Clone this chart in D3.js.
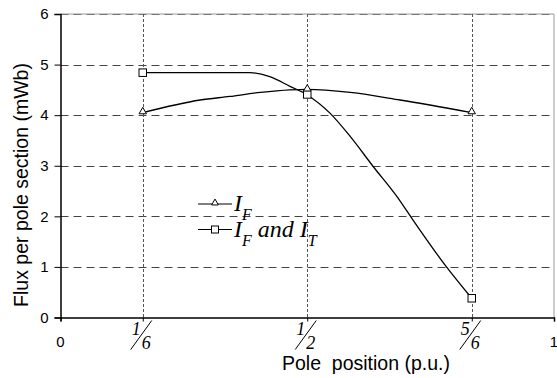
<!DOCTYPE html>
<html>
<head>
<meta charset="utf-8">
<script src="https://cdn.jsdelivr.net/npm/d3@7"></script>
<style>
  body { margin: 0; background: white; }
  svg { display: block; }
  .tickText { font-family: "Liberation Sans", Arial, sans-serif; font-size: 15px; fill: #000; }
  .axisTitle { font-family: "Liberation Sans", Arial, sans-serif; font-size: 19.5px; fill: #000; }
  .frac { font-family: "Liberation Serif", "Times New Roman", serif; font-style: italic; font-size: 18px; fill: #000; }
  .legText { font-family: "Liberation Serif", "Times New Roman", serif; font-style: italic; font-size: 24px; fill: #000; }
</style>
</head>
<body>
<div id="chart"></div>
<script>
/* axis ticks */
var xTicks = [0, 1/6, 1/2, 5/6, 1]
var xTickNum = ["0", "1", "1", "5", "1"]
var xTickDen = [null, "6", "2", "6", null]
var yTicks = [0, 1, 2, 3, 4, 5, 6]
var xGrid = [1/6, 1/2, 5/6]

/* measured points (markers) */
var polePos = [1/6, 1/2, 5/6]
var fluxIF = [4.05, 4.5, 4.05]
var fluxIFIT = [4.84, 4.41, 0.38]

/* smoothed curves */
var curveIFx = [1/6, 0.283, 0.343, 0.405, 0.465, 0.5, 0.587, 0.688, 5/6]
var curveIFy = [4.05, 4.30, 4.37, 4.45, 4.50, 4.51, 4.45, 4.30, 4.05]
var curveITx = [1/6, 0.384, 0.424, 0.465, 0.5, 0.546, 0.587, 0.634, 0.684, 0.714, 0.779, 5/6]
var curveITy = [4.84, 4.84, 4.76, 4.57, 4.40, 4.04, 3.58, 2.98, 2.36, 1.93, 1.04, 0.38]

var layout = {
  W: 557, H: 378,
  left: 60.5, right: 554, top: 14, bottom: 317.5,
  lineW: 1.3,
  markerSize: 7.5
}

var svg = d3.select("#chart").append("svg")
  .attr("width", layout.W)
  .attr("height", layout.H)

var x = d3.scaleLinear().domain([0, 1]).range([layout.left, layout.right])
var y = d3.scaleLinear().domain([0, 6]).range([layout.bottom, layout.top])

/* frame (top + right in gray) */
svg.append("path")
  .attr("d", "M" + layout.left + "," + layout.top + "H" + layout.right + "V" + layout.bottom)
  .attr("fill", "none")
  .attr("stroke", "#9a9a9a")
  .attr("stroke-width", 1)

/* horizontal grid */
svg.selectAll(".hGrid")
  .data(yTicks.filter(function(d) { return d > 0 }))
  .enter().append("line")
  .attr("class", "hGrid")
  .attr("x1", layout.left)
  .attr("x2", layout.right)
  .attr("y1", function(d) { return Math.round(y(d)) + 0.5 })
  .attr("y2", function(d) { return Math.round(y(d)) + 0.5 })
  .attr("stroke", function(d) { return d == 6 ? "#777" : "#444" })
  .attr("stroke-width", 1)
  .attr("stroke-dasharray", "8,5")

/* vertical grid */
svg.selectAll(".vGrid")
  .data(xGrid)
  .enter().append("line")
  .attr("class", "vGrid")
  .attr("x1", function(d) { return Math.round(x(d)) + 0.5 })
  .attr("x2", function(d) { return Math.round(x(d)) + 0.5 })
  .attr("y1", layout.top)
  .attr("y2", layout.bottom)
  .attr("stroke", "#555")
  .attr("stroke-width", 1)
  .attr("stroke-dasharray", "3,2")

/* axes */
var yAxis = d3.axisLeft(y).tickValues(yTicks).tickSize(6).tickPadding(6).tickFormat(d3.format("d"))
var yG = svg.append("g").attr("transform", "translate(" + layout.left + ",0)").call(yAxis)
yG.select(".domain").attr("stroke", "#000").attr("stroke-width", 1.5)
yG.selectAll(".tick line").attr("stroke", "#000")
yG.selectAll(".tick text").attr("class", "tickText").attr("font-size", null).attr("font-family", null)

var xAxis = d3.axisBottom(x).tickValues(xTicks).tickSize(4).tickFormat("")
var xG = svg.append("g").attr("transform", "translate(0," + layout.bottom + ")").call(xAxis)
xG.select(".domain").attr("stroke", "#000").attr("stroke-width", 1.5)
xG.selectAll(".tick line").attr("stroke", "#000")

/* x tick labels: whole numbers and slanted fractions */
xTicks.forEach(function(v, i) {
  var px = x(v)
  if (xTickDen[i] == null) {
    svg.append("text")
      .attr("class", "tickText")
      .attr("x", px)
      .attr("y", layout.bottom + 29)
      .attr("text-anchor", "middle")
      .text(xTickNum[i])
  } else {
    svg.append("text")
      .attr("class", "frac")
      .attr("x", px - 6.5)
      .attr("y", layout.bottom + 17)
      .attr("text-anchor", "middle")
      .text(xTickNum[i])
    svg.append("line")
      .attr("x1", px - 12).attr("y1", layout.bottom + 32)
      .attr("x2", px + 9).attr("y2", layout.bottom + 3)
      .attr("stroke", "#000")
      .attr("stroke-width", 1)
    svg.append("text")
      .attr("class", "frac")
      .attr("x", px + 3.5)
      .attr("y", layout.bottom + 31)
      .attr("text-anchor", "middle")
      .text(xTickDen[i])
  }
})

/* axis titles */
svg.append("text")
  .attr("class", "axisTitle")
  .attr("x", 366)
  .attr("y", 370)
  .attr("text-anchor", "middle")
  .attr("xml:space", "preserve")
  .text("Pole  position (p.u.)")

svg.append("text")
  .attr("class", "axisTitle")
  .attr("transform", "translate(28," + 185 + ") rotate(-90)")
  .attr("text-anchor", "middle")
  .text("Flux per pole section (mWb)")

/* curves */
var lineFn = d3.line()
  .x(function(d) { return x(d[0]) })
  .y(function(d) { return y(d[1]) })
  .curve(d3.curveMonotoneX)

svg.append("path")
  .attr("d", lineFn(d3.zip(curveIFx, curveIFy)))
  .attr("fill", "none")
  .attr("stroke", "#000")
  .attr("stroke-width", layout.lineW)

svg.append("path")
  .attr("d", lineFn(d3.zip(curveITx, curveITy)))
  .attr("fill", "none")
  .attr("stroke", "#000")
  .attr("stroke-width", layout.lineW)

/* markers */
var triSym = d3.symbol().type(d3.symbolTriangle).size(24)
function drawTri(px, py) {
  svg.append("path")
    .attr("d", triSym())
    .attr("transform", "translate(" + px + "," + py + ")")
    .attr("fill", "white")
    .attr("stroke", "#000")
    .attr("stroke-width", 1)
}
function drawSq(px, py) {
  var s = layout.markerSize
  svg.append("rect")
    .attr("x", px - s / 2).attr("y", py - s / 2)
    .attr("width", s).attr("height", s)
    .attr("fill", "white")
    .attr("stroke", "#000")
    .attr("stroke-width", 1)
}
polePos.forEach(function(p, i) { drawSq(x(p), y(fluxIFIT[i])) })
polePos.forEach(function(p, i) { drawTri(x(p), y(fluxIF[i]) - 1) })

/* legend */
var legY = [204, 229.5]
var legX1 = 198, legX2 = 232
legY.forEach(function(ly) {
  svg.append("line")
    .attr("x1", legX1).attr("x2", legX2)
    .attr("y1", ly).attr("y2", ly)
    .attr("stroke", "#000")
    .attr("stroke-width", 1.2)
})
svg.append("path")
  .attr("d", d3.symbol().type(d3.symbolTriangle).size(20)())
  .attr("transform", "translate(215," + (legY[0] - 1) + ")")
  .attr("fill", "white").attr("stroke", "#000").attr("stroke-width", 1)
svg.append("rect")
  .attr("x", 211.5).attr("y", legY[1] - 3.5)
  .attr("width", 7).attr("height", 7)
  .attr("fill", "white").attr("stroke", "#000").attr("stroke-width", 1)

var t1 = svg.append("text").attr("class", "legText").attr("x", 234).attr("y", legY[0] + 7)
t1.append("tspan").text("I")
t1.append("tspan").attr("dy", 8.5).attr("font-size", 16).text("F")

var t2 = svg.append("text").attr("class", "legText").attr("x", 234).attr("y", legY[1] + 7.5)
t2.append("tspan").text("I")
t2.append("tspan").attr("dy", 8.5).attr("font-size", 16).text("F")
t2.append("tspan").attr("dy", -8.5).attr("xml:space", "preserve").text(" and ")
t2.append("tspan").text("I")
t2.append("tspan").attr("dy", 8.5).attr("font-size", 16).text("T")
</script>
</body>
</html>
